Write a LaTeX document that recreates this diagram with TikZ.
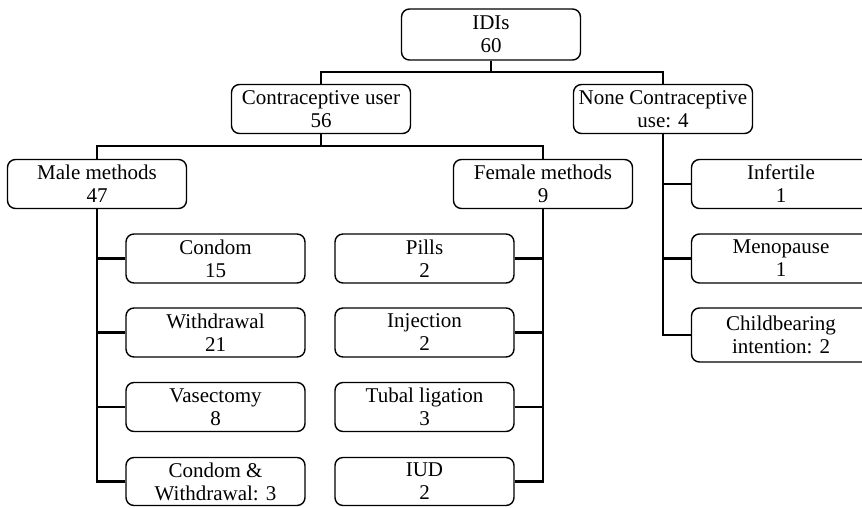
\documentclass[tikz,border=0pt]{standalone}
\usepackage{fontspec}
\setmainfont{Liberation Serif}
\usepackage{tikz}
\usetikzlibrary{positioning}
\tikzset{font=\fontsize{21}{23}\selectfont}
\tikzset{box/.style={draw,line width=1.4pt,rounded corners=8pt,minimum width=179pt,minimum height=49pt,inner sep=2pt,align=center}}
\tikzset{link/.style={line width=2.2pt}}

\begin{document}
\begin{tikzpicture}[x=1pt,y=-1pt]
  \clip (0,0) rectangle (862,507);
  \fill[white] (0,0) rectangle (862,507);
  % top levels
  \node[box,minimum height=51pt] (idi) at (491,34.5) {IDIs\\60};
  \node[box] (user) at (321,109) {Contraceptive user\\56};
  \node[box] (none) at (663,109) {None Contraceptive\\use: 4};
  \node[box] (male) at (97,184) {Male methods\\47};
  \node[box] (female) at (543,184) {Female methods\\9};
  % male methods
  \node[box] (condom) at (215.5,258.5) {Condom\\15};
  \node[box] (withdrawal) at (215.5,332.5) {Withdrawal\\21};
  \node[box] (vasectomy) at (215.5,407) {Vasectomy\\8};
  \node[box,minimum height=48pt] (cwd) at (215.5,481.5) {Condom \&\\Withdrawal: 3};
  % female methods
  \node[box] (pills) at (424.5,258.5) {Pills\\2};
  \node[box] (injection) at (424.5,332.5) {Injection\\2};
  \node[box] (tubal) at (424.5,407) {Tubal ligation\\3};
  \node[box,minimum height=48pt] (iud) at (424.5,481.5) {IUD\\2};
  % no contraception
  \node[box] (infertile) at (781,184) {Infertile\\1};
  \node[box] (menopause) at (781,258.5) {Menopause\\1};
  \node[box,minimum height=54pt] (childbearing) at (781,335) {Childbearing\\intention: 2};
  % connectors
  \draw[link] (idi.south) -- ++(0,11) -| (user.north);
  \draw[link] (idi.south) -- ++(0,11) -| (none.north);
  \draw[link] (user.south) -- ++(0,12) -| (male.north);
  \draw[link] (user.south) -- ++(0,12) -| (female.north);
  \foreach \n in {condom,withdrawal,vasectomy,cwd}
    \draw[link] (male.south) |- (\n.west);
  \foreach \n in {pills,injection,tubal,iud}
    \draw[link] (female.south) |- (\n.east);
  \foreach \n in {infertile,menopause,childbearing}
    \draw[link] (none.south) |- (\n.west);
\end{tikzpicture}
\end{document}
